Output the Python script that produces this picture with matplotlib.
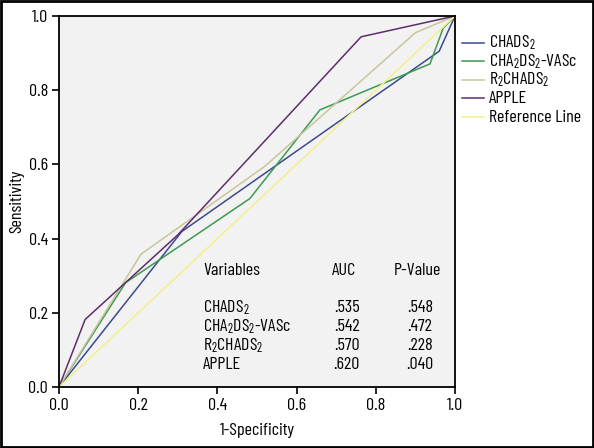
"""ROC curves for stroke risk scores."""

import matplotlib
matplotlib.use("Agg")
import matplotlib.pyplot as plt
from matplotlib import font_manager
from matplotlib.lines import Line2D
from matplotlib.patches import Rectangle

# ROC points (1-specificity, sensitivity)
chads2_x = [0.0, 0.31, 0.96, 1.0]
chads2_y = [0.0, 0.419, 0.905, 1.0]
chavasc_x = [0.0, 0.168, 0.482, 0.659, 0.937, 0.97, 1.0]
chavasc_y = [0.0, 0.281, 0.508, 0.747, 0.871, 0.967, 1.0]
r2chads2_x = [0.0, 0.207, 0.52, 0.90, 1.0]
r2chads2_y = [0.0, 0.358, 0.595, 0.955, 1.0]
apple_x = [0.0, 0.066, 0.30, 0.763, 1.0]
apple_y = [0.0, 0.182, 0.41, 0.944, 1.0]
ref_x = [0.0, 1.0]
ref_y = [0.0, 1.0]

labels = [r"CHADS$_2$", r"CHA$_2$DS$_2$-VASc", r"R$_2$CHADS$_2$", "APPLE", "Reference Line"]
colors = ["#3c4a8e", "#3d9a50", "#c9c59c", "#5e2d6b", "#f3f08c"]

table_vars = [r"CHADS$_2$", r"CHA$_2$DS$_2$-VASc", r"R$_2$CHADS$_2$", "APPLE"]
table_auc = [".535", ".542", ".570", ".620"]
table_p = [".548", ".472", ".228", ".040"]

names = {f.name for f in font_manager.fontManager.ttflist}
font = next(n for n in ["Barlow Condensed", "Roboto Condensed", "Archivo Narrow",
                        "Asap Condensed", "Liberation Sans"] if n in names)
plt.rcParams["font.family"] = [font, "DejaVu Sans"]
plt.rcParams["mathtext.fontset"] = "custom"
plt.rcParams["mathtext.rm"] = font
plt.rcParams["mathtext.it"] = font
plt.rcParams["mathtext.bf"] = font

W, H = 594, 448
fig = plt.figure(figsize=(W / 100, H / 100), dpi=100)
ax = fig.add_axes([59 / W, 61 / H, 396 / W, 371 / H])
ax.set_facecolor("#f2f2f2")

series = [(chads2_x, chads2_y), (chavasc_x, chavasc_y), (r2chads2_x, r2chads2_y),
          (apple_x, apple_y), (ref_x, ref_y)]
for (xs, ys), c in zip(series, colors):
    ax.plot(xs, ys, color=c, linewidth=1.1)

ax.set_xlim(0, 1)
ax.set_ylim(0, 1)
ticks = [0.0, 0.2, 0.4, 0.6, 0.8, 1.0]
ax.set_xticks(ticks)
ax.set_yticks(ticks)
ax.set_xticklabels([f"{t:.1f}" for t in ticks])
ax.set_yticklabels([f"{t:.1f}" for t in ticks])
fs = 13
ax.tick_params(direction="out", length=5, width=1.2, labelsize=fs, color="black", pad=3)
for s in ax.spines.values():
    s.set_linewidth(1.3)
ax.set_xlabel("1-Specificity", fontsize=fs)
ax.set_ylabel("Sensitivity", fontsize=fs)
ax.xaxis.set_label_coords(0.5, -43 / 371)
ax.xaxis.label.set_va("center")
ax.yaxis.set_label_coords(-42 / 396, 0.5)
ax.yaxis.label.set_va("center")

# AUC table inside the plot
ax.text(0.364, 0.315, "Variables", fontsize=fs, va="center", ha="left")
ax.text(0.72, 0.315, "AUC", fontsize=fs, va="center", ha="center")
ax.text(0.905, 0.315, "P-Value", fontsize=fs, va="center", ha="center")
row_y = [0.214, 0.163, 0.112, 0.061]
for yv, v, a, p in zip(row_y, table_vars, table_auc, table_p):
    ax.text(0.364, yv, v, fontsize=fs, va="center", ha="left")
    ax.text(0.727, yv, a, fontsize=fs, va="center", ha="center")
    ax.text(0.912, yv, p, fontsize=fs, va="center", ha="center")

# legend, laid out by hand to the right of the plot
for i, (lab, c) in enumerate(zip(labels, colors)):
    yl = 1 - (43 + 18.5 * i) / H
    fig.add_artist(Line2D([462 / W, 484 / W], [yl, yl], color=c, linewidth=1.1,
                          transform=fig.transFigure))
    fig.text(489 / W, yl, lab, fontsize=fs, va="center", ha="left")

fig.patches.append(Rectangle((0.002, 0.002), 0.996, 0.996, transform=fig.transFigure,
                             fill=False, edgecolor="black", linewidth=2))

fig.savefig("out.png", dpi=100)
